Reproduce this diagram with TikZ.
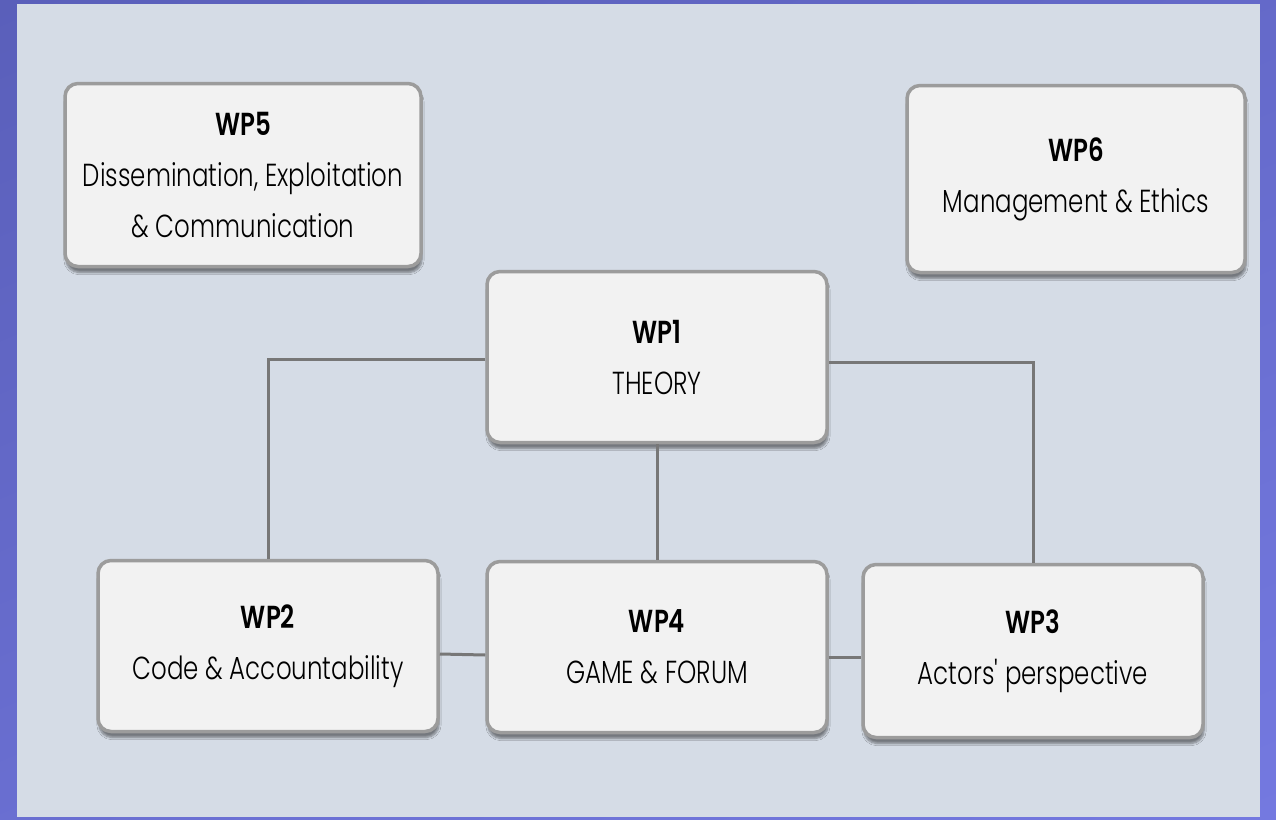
\documentclass[tikz,border=0pt]{standalone}
\usepackage{fontspec}
\setmainfont{Poppins}[UprightFont=* Light, BoldFont=* SemiBold]
\usepackage{tikz}
\usetikzlibrary{shadows.blur}
\usetikzlibrary{shadings}
\usetikzlibrary{positioning}

\definecolor{frameblue}{HTML}{5A5FBA}
\definecolor{framelight}{HTML}{7479E0}
\definecolor{panelgray}{HTML}{D5DCE6}
\definecolor{boxfill}{HTML}{F2F2F2}
\definecolor{boxline}{HTML}{9C9C9C}
\definecolor{linkgray}{HTML}{777777}

\newcommand{\tall}[1]{\scalebox{1}[1.3]{#1}}

\begin{document}
\begin{tikzpicture}[x=1pt, y=-1pt,
    wp/.style = {rectangle, rounded corners=13pt, draw=boxline, line width=3.5pt,
        fill=boxfill, align=center, inner sep=0pt,
        minimum width=340pt, minimum height=171pt,
        font=\fontsize{24.5}{51}\selectfont,
        blur shadow={shadow xshift=1pt, shadow yshift=-6pt, shadow blur steps=6, shadow opacity=45}},
    link/.style = {draw=linkgray, line width=3pt}]
    % background
    \shade[upper left=frameblue, lower right=framelight, upper right=frameblue!60!framelight,
        lower left=frameblue!40!framelight] (0,0) rectangle (1276,819);
    \fill[panelgray] (17,4) rectangle (1260,817);
    \useasboundingbox (0,0) rectangle (1276,819);
    % work packages
    \node [wp, minimum width=356pt, minimum height=183pt] (wp5) at (243,175)
        {\tall{\textbf{WP5}}\\\tall{Dissemination, Exploitation}\\\tall{\& Communication}};
    \node [wp, minimum width=338pt, minimum height=187pt] (wp6) at (1076,179)
        {\tall{\textbf{WP6}}\\\tall{Management \& Ethics}};
    \node [wp] (wp1) at (657,357) {\tall{\textbf{WP1}}\\\tall{THEORY}};
    \node [wp] (wp2) at (268,646) {\tall{\textbf{WP2}}\\\tall{Code \& Accountability}};
    \node [wp] (wp4) at (657,647) {\tall{\textbf{WP4}}\\\tall{GAME \& FORUM}};
    \node [wp, minimum height=173pt] (wp3) at (1033,651)
        {\tall{\textbf{WP3}}\\\tall{Actors\textquotesingle\ perspective}};
    % links
    \draw [link] ([yshift=-2pt]wp1.west) -| (wp2.north);
    \draw [link] ([yshift=-5pt]wp1.east) -| (wp3.north);
    \draw [link] (wp1.south) -- (wp4.north);
    \draw [link] ([yshift=-8pt]wp2.east) -- ([yshift=-8pt]wp4.west);
    \draw [link] ([yshift=-10pt]wp4.east) -- ([yshift=-10pt]wp4.east -| wp3.west);
\end{tikzpicture}
\end{document}
